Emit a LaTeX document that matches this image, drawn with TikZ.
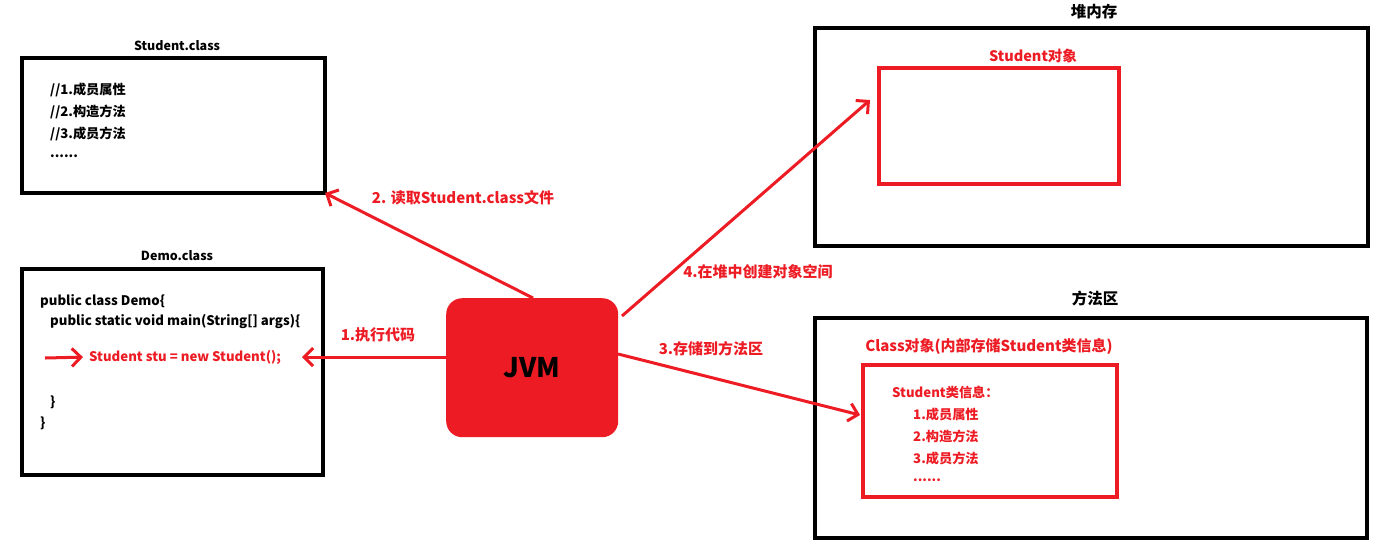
\documentclass[tikz,border=0pt]{standalone}
\usepackage{fontspec}
\setmainfont{Noto Sans CJK SC}
\usetikzlibrary{arrows.meta}
\definecolor{pred}{HTML}{ED1C24}
\begin{document}
\begin{tikzpicture}[x=1pt,y=-1pt,
  font=\bfseries\fontsize{12.5}{14}\selectfont,
  blk/.style={draw=black,line width=4pt,inner sep=0pt,outer sep=0pt,anchor=north west},
  rbox/.style={draw=pred,line width=4pt,inner sep=0pt,outer sep=0pt,anchor=north west},
  arr/.style={draw=pred,line width=3pt,-{Straight Barb[length=9pt,width=18pt,line width=3pt]}},
  lbl/.style={text=pred,font=\bfseries\fontsize{15}{18}\selectfont,inner sep=0pt},
  code/.style={anchor=west,inner sep=0pt,font=\bfseries\fontsize{13.2}{15}\selectfont},
  rcode/.style={code,text=pred},
  ttl/.style={inner sep=0pt},
  bigttl/.style={inner sep=0pt,font=\bfseries\fontsize{15.5}{18}\selectfont}]
\useasboundingbox[fill=white] (0,0) rectangle (1378,549);

% Student.class
\node[blk,minimum width=303pt,minimum height=135pt] (sc) at (22,58) {};
\node[ttl] (sct) at (177,46) {Student.class};
\node[code] (sc1) at (50,90) {//1.成员属性};
\node[code] (sc2) at (50,112) {//2.构造方法};
\node[code] (sc3) at (50,134) {//3.成员方法};
\node[code] (sc4) at (50,156) {......};

% Demo.class
\node[blk,minimum width=301pt,minimum height=206pt] (dc) at (22,269) {};
\node[ttl] (dct) at (177,256) {Demo.class};
\node[code] (d1) at (40,301) {public class Demo\{};
\node[code] (d2) at (50,322) {public static void main(String[] args)\{};
\node[rcode] (d3) at (89,357) {Student stu = new Student();};
\node[code] (d4) at (50,402) {\}};
\node[code] (d5) at (40,423) {\}};
\coordinate (sa) at (45,358);
\draw[arr,line width=3pt,shorten >=6pt] (sa) -- (d3.west);

% JVM
\node[fill=pred,rounded corners=16pt,minimum width=172pt,minimum height=139pt,anchor=north west,
      font=\bfseries\fontsize{27}{30}\selectfont] (jvm) at (446,298) {JVM};

% Heap
\node[blk,minimum width=553pt,minimum height=218pt] (heap) at (815,28) {};
\node[bigttl] (heapt) at (1094,12) {堆内存};
\node[rbox,minimum width=240pt,minimum height=116pt] (obj) at (879,68) {};
\node[ttl,text=pred,font=\bfseries\fontsize{14.5}{16}\selectfont] (objt) at (1033,56) {Student对象};

% Method area
\node[blk,minimum width=552pt,minimum height=220pt] (ma) at (815,318) {};
\node[bigttl] (mat) at (1095,299) {方法区};
\node[rbox,minimum width=254pt,minimum height=132pt] (cls) at (863,365) {};
\node[ttl,text=pred,font=\bfseries\fontsize{15}{17}\selectfont] (clst) at (989,347) {Class对象(内部存储Student类信息)};
\node[rcode] (c0) at (892,392) {Student类信息：};
\node[rcode] (c1) at (913,414) {1.成员属性};
\node[rcode] (c2) at (913,436) {2.构造方法};
\node[rcode] (c3) at (913,458) {3.成员方法};
\node[rcode] (c4) at (913,480) {......};

% arrows
\coordinate (a1s) at (446,357);
\coordinate (a1e) at (302,357);
\draw[arr] (a1s) -- (a1e);
\node[lbl] (l1) at (378,335) {1.执行代码};

\coordinate (a2s) at (533,298);
\draw[arr] (a2s) -- (sc.south east);
\node[lbl] (l2) at (463,198) {2. 读取Student.class文件};

\coordinate (a3s) at (618,354);
\coordinate (a3e) at (860,415);
\draw[arr] (a3s) -- (a3e);
\node[lbl] (l3) at (711,349) {3.存储到方法区};

\coordinate (a4s) at (622,316);
\coordinate (a4e) at (870,100);
\draw[arr] (a4s) -- (a4e);
\node[lbl] (l4) at (758,272) {4.在堆中创建对象空间};
\end{tikzpicture}
\end{document}
